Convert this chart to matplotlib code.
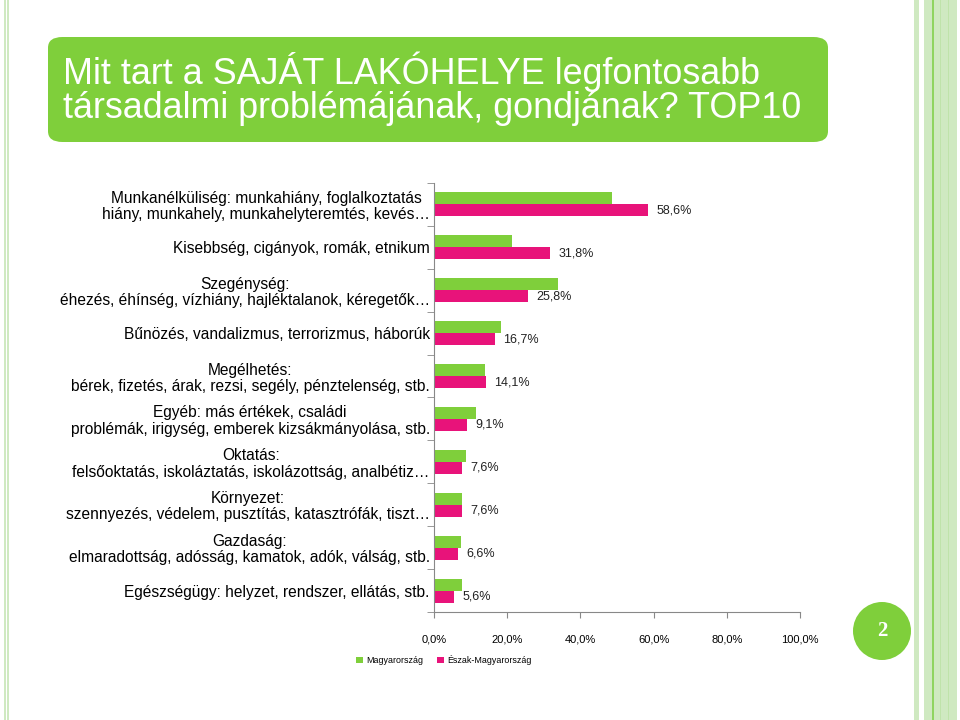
import numpy as np
import matplotlib
matplotlib.use("Agg")
import matplotlib.pyplot as plt
from matplotlib.patches import FancyBboxPatch, Rectangle, Ellipse

plt.rcParams["font.family"] = ["Liberation Sans", "DejaVu Sans"]

GREEN = "#7fcf3b"
PINK = "#e8137a"
LIGHT = "#cfe9c1"

title = "Mit tart a SAJÁT LAKÓHELYE legfontosabb\ntársadalmi problémájának, gondjának? TOP10"
categories = [
    "Munkanélküliség: munkahiány, foglalkoztatás\nhiány, munkahely, munkahelyteremtés, kevés…",
    "Kisebbség, cigányok, romák, etnikum",
    "Szegénység:\néhezés, éhínség, vízhiány, hajléktalanok, kéregetők…",
    "Bűnözés, vandalizmus, terrorizmus, háborúk",
    "Megélhetés:\nbérek, fizetés, árak, rezsi, segély, pénztelenség, stb.",
    "Egyéb: más értékek, családi\nproblémák, irigység, emberek kizsákmányolása, stb.",
    "Oktatás:\nfelsőoktatás, iskoláztatás, iskolázottság, analbétiz…",
    "Környezet:\nszennyezés, védelem, pusztítás, katasztrófák, tiszt…",
    "Gazdaság:\nelmaradottság, adósság, kamatok, adók, válság, stb.",
    "Egészségügy: helyzet, rendszer, ellátás, stb.",
]
magyarorszag = [48.7, 21.3, 34.0, 18.3, 14.0, 11.4, 8.7, 7.7, 7.3, 7.7]
eszak = [58.6, 31.8, 25.8, 16.7, 14.1, 9.1, 7.6, 7.6, 6.6, 5.6]
series_names = ["Magyarország", "Észak-Magyarország"]
xticks = [0, 20, 40, 60, 80, 100]

fig = plt.figure(figsize=(9.6, 7.2), dpi=100)

# keret: halvány zöld csíkok bal/jobb oldalt
for x0, w, c in [(4, 2, LIGHT), (7, 2, LIGHT), (914, 5, LIGHT), (924, 33, LIGHT)]:
    fig.patches.append(Rectangle((x0 / 960, 0), w / 960, 1, transform=fig.transFigure,
                                 color=c, lw=0, zorder=0))
for x0, w, c in [(932, 1.5, "#8fd460"), (940, 1, "#bfe3aa"), (948, 1, "#bfe3aa")]:
    fig.patches.append(Rectangle((x0 / 960, 0), w / 960, 1, transform=fig.transFigure,
                                 color=c, lw=0, zorder=0))

# cím doboz
box = FancyBboxPatch((48 / 960, 1 - 142 / 720), 780 / 960, 105 / 720,
                     boxstyle="round,pad=0,rounding_size=0.015",
                     transform=fig.transFigure, color=GREEN, lw=0)
fig.patches.append(box)
fig.text(63 / 960, 1 - 89 / 720, title, color="white", fontsize=25.8,
         va="center", ha="left", linespacing=0.98)

# oldalszám
fig.patches.append(Ellipse((882 / 960, 1 - 631 / 720), 58 / 960, 58 / 720,
                           transform=fig.transFigure, color=GREEN, lw=0))
fig.text(882 / 960, 1 - 631 / 720, "2", color="white", fontsize=15, fontweight="bold",
         family="Liberation Serif", ha="center", va="center")

ax = fig.add_axes([434 / 960, 1 - 612 / 720, 366 / 960, 429 / 720])
y = np.arange(len(categories))
h = 0.28
ax.barh(y - h / 2, magyarorszag, height=h, color=GREEN, label=series_names[0])
ax.barh(y + h / 2, eszak, height=h, color=PINK, label=series_names[1])
for yi, v in zip(y, eszak):
    ax.text(v + 2.2, yi + h / 2, f"{v:.1f}%".replace(".", ","), va="center",
            ha="left", fontsize=9, color="#222222")

ax.set_xlim(0, 100)
ax.set_ylim(len(categories) - 0.5, -0.5)
ax.set_xticks(xticks)
ax.set_xticklabels([f"{t:.1f}%".replace(".", ",") for t in xticks], fontsize=8)
ax.tick_params(axis="x", length=4, color="#888888", pad=12)
ax.set_yticks(y)
ax.set_yticklabels(categories, fontsize=11.2, linespacing=1.1)
for lab in ax.get_yticklabels():
    lab.set_multialignment("center")
ax.tick_params(axis="y", length=0, pad=3)
ax.set_yticks(np.arange(len(categories) + 1) - 0.5, minor=True)
ax.tick_params(axis="y", which="minor", length=5, color="#888888")
for s in ["top", "right"]:
    ax.spines[s].set_visible(False)
for s in ["left", "bottom"]:
    ax.spines[s].set_color("#888888")

ax.legend(loc="upper left", frameon=False, ncol=2, handlelength=0.75,
          handleheight=0.75, handletextpad=0.35, columnspacing=1.6,
          borderpad=0, borderaxespad=0, prop={"size": 6.4},
          bbox_to_anchor=(356 / 960, 1 - 655 / 720), bbox_transform=fig.transFigure)

fig.savefig("out.png", dpi=100)
